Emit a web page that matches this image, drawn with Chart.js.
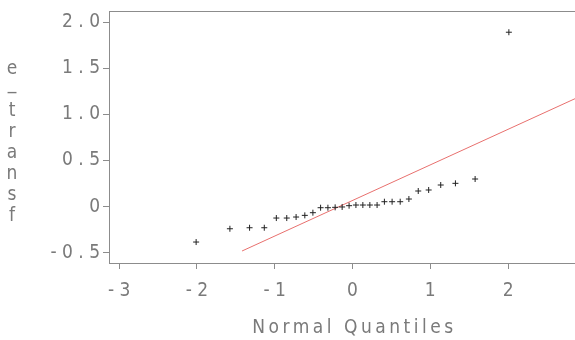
<!DOCTYPE html>
<html>
<head>
<meta charset="utf-8">
<script src="https://cdn.jsdelivr.net/npm/chart.js@4/dist/chart.umd.min.js"></script>
<style>
  html, body { margin: 0; padding: 0; background: #fff; overflow: hidden; }
  canvas { display: block; }
</style>
</head>
<body>
<canvas id="qq" width="575" height="340"></canvas>
<script>
// Normal quantile plot of e_transf
const normalQuantiles = [
  -2.01, -1.576, -1.323, -1.134, -0.979, -0.845, -0.725, -0.613, -0.509, -0.410,
  -0.316, -0.223, -0.133, -0.044, 0.044, 0.133, 0.223, 0.316, 0.410, 0.509,
  0.613, 0.725, 0.845, 0.979, 1.134, 1.323, 1.576, 2.01
];
const eTransf = [
  -0.383, -0.239, -0.228, -0.228, -0.123, -0.123, -0.112, -0.094, -0.065, -0.011,
  -0.011, -0.007, -0.003, 0.011, 0.018, 0.018, 0.018, 0.018, 0.054, 0.054,
  0.054, 0.083, 0.170, 0.181, 0.235, 0.253, 0.300, 1.89
];
// reference line endpoints
const refLineX = [-1.42, 2.86];
const refLineY = [-0.48, 1.17];

const xTickValues = [-3, -2, -1, 0, 1, 2];
const xTickLabels = ['- 3', '- 2', '- 1', '0', '1', '2'];
const yTickValues = [-0.5, 0, 0.5, 1, 1.5, 2];
const yTickLabels = ['- 0 . 5', '0', '0 . 5', '1 . 0', '1 . 5', '2 . 0'];

const xTitle = 'Normal Quantiles';
const yTitleChars = ['e', '_', 't', 'r', 'a', 'n', 's', 'f'];

const FONT = '"Liberation Sans Narrow", "DejaVu Sans Condensed", "Liberation Sans", sans-serif';
const TEXT_COLOR = '#7a7a7a';
const AXIS_COLOR = '#8c8c8c';

const titlesPlugin = {
  id: 'qqTitles',
  afterDraw(chart) {
    const { ctx, chartArea } = chart;
    ctx.save();
    // top frame line
    ctx.strokeStyle = AXIS_COLOR;
    ctx.lineWidth = 1;
    ctx.beginPath();
    ctx.moveTo(chartArea.left, chartArea.top + 0.5);
    ctx.lineTo(chartArea.right, chartArea.top + 0.5);
    ctx.stroke();

    ctx.fillStyle = TEXT_COLOR;
    ctx.font = '19px ' + FONT;
    // x axis title, letter spaced
    ctx.letterSpacing = '3.5px';
    ctx.textAlign = 'center';
    ctx.textBaseline = 'middle';
    const cx = chart.scales.x.getPixelForValue(0);
    ctx.fillText(xTitle, cx + 2, 328);
    // y axis title, stacked vertically
    ctx.letterSpacing = '0px';
    yTitleChars.forEach((ch, i) => {
      const y = 69 + i * 21;
      ctx.fillText(ch, 12, ch === '_' ? y - 6 : y);
    });
    ctx.restore();
  }
};

new Chart(document.getElementById('qq'), {
  type: 'scatter',
  data: {
    datasets: [
      {
        label: 'e_transf',
        data: normalQuantiles.map((q, i) => ({ x: q, y: eTransf[i] })),
        pointStyle: 'cross',
        pointRadius: 3,
        pointBorderWidth: 1,
        borderColor: '#222',
        backgroundColor: '#222'
      },
      {
        label: 'reference',
        type: 'line',
        data: refLineX.map((x, i) => ({ x: x, y: refLineY[i] })),
        borderColor: '#e8706e',
        borderWidth: 1,
        pointRadius: 0,
        fill: false
      }
    ]
  },
  options: {
    responsive: false,
    animation: false,
    layout: { autoPadding: false, padding: { top: 11, right: 0, left: 0, bottom: 0 } },
    plugins: { legend: { display: false }, tooltip: { enabled: false } },
    scales: {
      x: {
        type: 'linear',
        min: -3.13,
        max: 2.86,
        afterBuildTicks(scale) { scale.ticks = xTickValues.map(v => ({ value: v })); },
        afterFit(scale) { scale.height = 77; scale.paddingLeft = 0; scale.paddingRight = 0; },
        ticks: {
          font: { family: FONT, size: 19 },
          color: TEXT_COLOR,
          padding: 11,
          maxRotation: 0,
          callback(v) { const i = xTickValues.indexOf(v); return i >= 0 ? xTickLabels[i] : ''; }
        },
        grid: { drawOnChartArea: false, drawTicks: true, tickLength: 6, tickColor: AXIS_COLOR },
        border: { display: true, color: AXIS_COLOR, width: 1 }
      },
      y: {
        type: 'linear',
        min: -0.61,
        max: 2.12,
        afterBuildTicks(scale) { scale.ticks = yTickValues.map(v => ({ value: v })); },
        afterFit(scale) { scale.width = 109; scale.paddingTop = 0; scale.paddingBottom = 0; },
        ticks: {
          font: { family: FONT, size: 19 },
          color: TEXT_COLOR,
          padding: 3,
          callback(v) { const i = yTickValues.indexOf(v); return i >= 0 ? yTickLabels[i] : ''; }
        },
        grid: { drawOnChartArea: false, drawTicks: true, tickLength: 6, tickColor: AXIS_COLOR },
        border: { display: true, color: AXIS_COLOR, width: 1 }
      }
    }
  },
  plugins: [titlesPlugin]
});
</script>
</body>
</html>
